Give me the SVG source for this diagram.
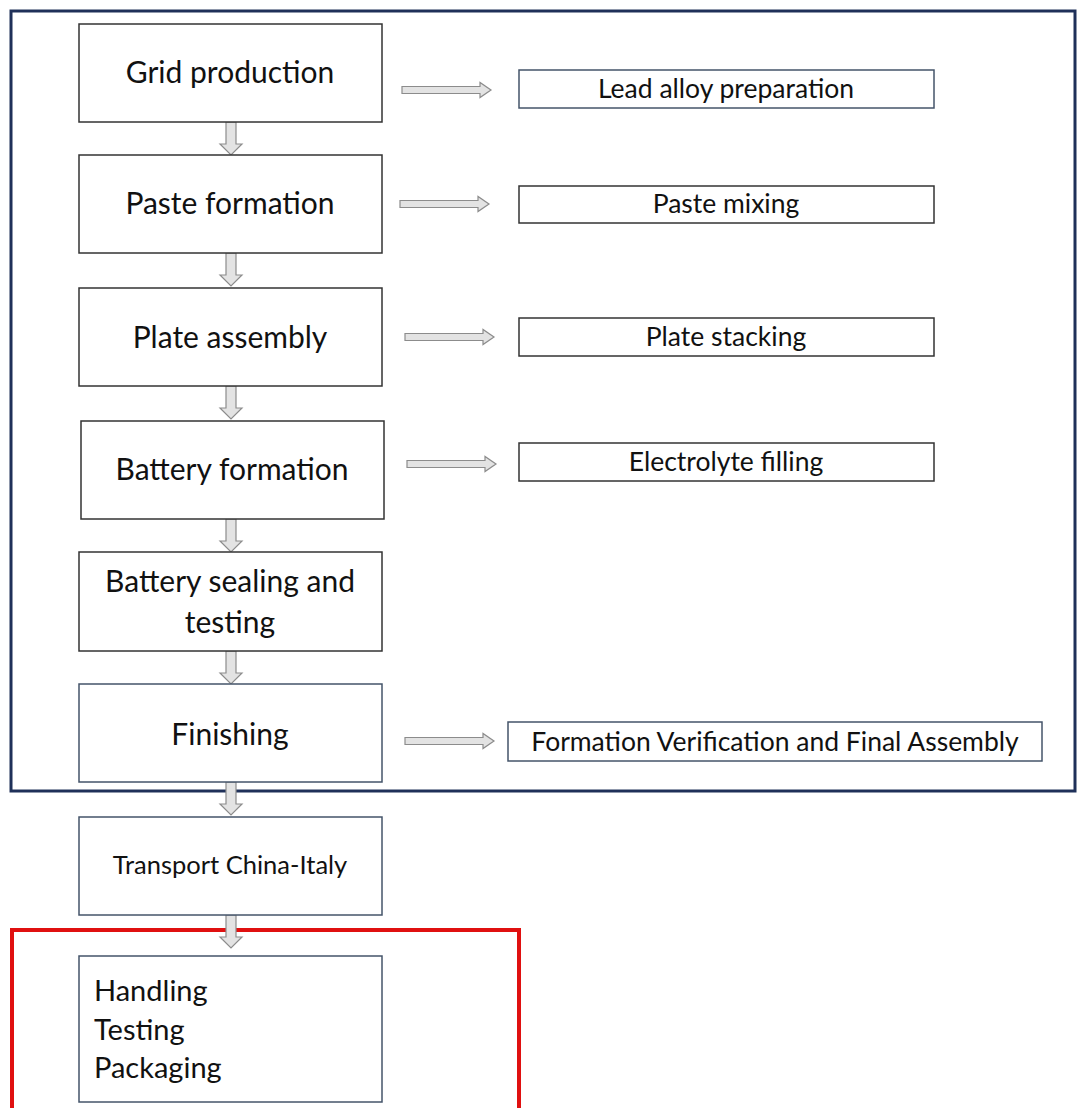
<svg xmlns="http://www.w3.org/2000/svg" width="1078" height="1108" viewBox="0 0 1078 1108">
<defs>
<style>
.box{fill:#fff;stroke:#333;stroke-width:1.5}
.box2{fill:#fff;stroke:#44546a;stroke-width:1.5}
.t{font-family:Lato,"Open Sans","Liberation Sans",sans-serif;fill:#111;text-anchor:middle}
.big{font-size:30px}
.sm{font-size:26.5px}
.arr{fill:#e3e3e3;stroke:#8c8c8c;stroke-width:1.2}
</style>
<path id="va" d="M-5,0 H5 V22 H11 L0,33 L-11,22 H-5 Z"/>
<path id="ha" d="M0,-3.5 H78 V-7.5 L89,0 L78,7.5 V3.5 H0 Z"/>
</defs>
<rect width="1078" height="1108" fill="#fff"/>
<rect id="frame-blue" x="11" y="11" width="1064" height="780" fill="none" stroke="#1f3059" stroke-width="3"/>
<rect id="frame-red" x="12" y="930" width="507" height="190" fill="none" stroke="#e01010" stroke-width="4"/>
<g id="connectors">
<use href="#va" class="arr" x="231" y="122"/>
<use href="#va" class="arr" x="231" y="253"/>
<use href="#va" class="arr" x="231" y="386"/>
<use href="#va" class="arr" x="231" y="519"/>
<use href="#va" class="arr" x="231" y="651"/>
<use href="#va" class="arr" x="231" y="782"/>
<use href="#va" class="arr" x="231" y="915"/>
<use href="#ha" class="arr" x="402" y="90"/>
<use href="#ha" class="arr" x="400" y="204"/>
<use href="#ha" class="arr" x="405" y="337"/>
<use href="#ha" class="arr" x="407" y="464"/>
<use href="#ha" class="arr" x="405" y="741"/>
</g>
<g id="grid"><rect class="box" x="79" y="24" width="303" height="98"/><text class="t big" x="230" y="83">Grid production</text></g>
<g id="paste"><rect class="box" x="79" y="155" width="303" height="98"/><text class="t big" x="230" y="214">Paste formation</text></g>
<g id="plate"><rect class="box" x="79" y="288" width="303" height="98"/><text class="t big" x="230" y="348">Plate assembly</text></g>
<g id="batform"><rect class="box" x="81" y="421" width="303" height="98"/><text class="t big" x="232" y="480">Battery formation</text></g>
<g id="sealing"><rect class="box" x="79" y="552" width="303" height="99"/><text class="t big" x="230" y="592">Battery sealing and</text><text class="t big" x="230" y="633">testing</text></g>
<g id="finishing"><rect class="box2" x="79" y="684" width="303" height="98"/><text class="t big" x="230" y="745">Finishing</text></g>
<g id="transport"><rect class="box2" x="79" y="817" width="303" height="98"/><text class="t" style="font-size:25.5px" x="230" y="874">Transport China-Italy</text></g>
<g id="handling"><rect class="box2" x="79" y="956" width="303" height="146"/><text class="t big" style="text-anchor:start;font-size:29px" x="94" y="1001">Handling</text><text class="t big" style="text-anchor:start;font-size:29px" x="94" y="1040">Testing</text><text class="t big" style="text-anchor:start;font-size:29px" x="94" y="1078">Packaging</text></g>
<g id="lead"><rect class="box2" x="519" y="70" width="415" height="38"/><text class="t sm" x="726" y="98">Lead alloy preparation</text></g>
<g id="mixing"><rect class="box" x="519" y="186" width="415" height="37"/><text class="t sm" x="726" y="213">Paste mixing</text></g>
<g id="stacking"><rect class="box" x="519" y="318" width="415" height="38"/><text class="t sm" x="726" y="346">Plate stacking</text></g>
<g id="electrolyte"><rect class="box" x="519" y="443" width="415" height="38"/><text class="t sm" x="726" y="471">Electrolyte filling</text></g>
<g id="verification"><rect class="box2" x="508" y="722" width="534" height="39"/><text class="t sm" x="775" y="751">Formation Verification and Final Assembly</text></g>
</svg>
